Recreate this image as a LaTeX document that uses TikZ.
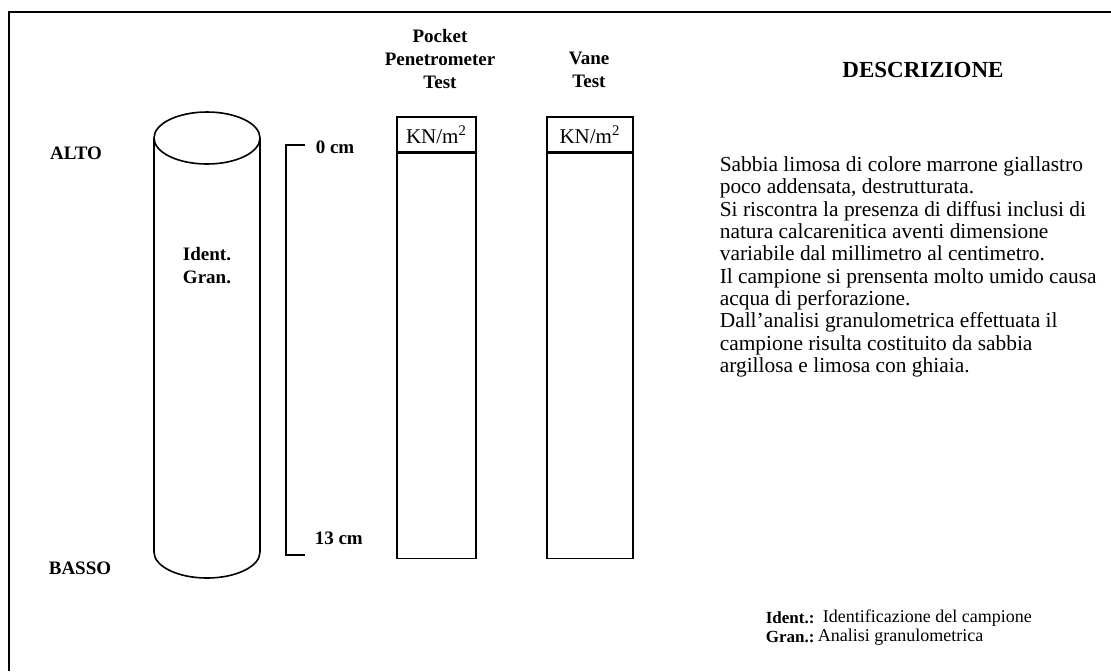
\documentclass[tikz,border=0pt]{standalone}
\usepackage{fontspec}
\setmainfont{Liberation Serif}
\usetikzlibrary{positioning}

\begin{document}
\begin{tikzpicture}
	[
	x=0.5pt, y=-0.5pt,
	line width=0.8pt,
	label/.style={font=\bfseries\fontsize{9.5}{11.5}\selectfont, align=center, inner sep=0pt},
	head/.style={draw, minimum width=#1, minimum height=17.5pt, inner sep=0pt, font=\fontsize{10.5}{12}\selectfont},
	column/.style={draw, minimum width=#1, minimum height=202.5pt, inner sep=0pt},
	desc/.style={font=\fontsize{10.7}{11.15}\selectfont, align=left, inner sep=0pt},
	legend/.style={font=\fontsize{9}{11}\selectfont, inner sep=0pt, anchor=west},
	legkey/.style={font=\bfseries\fontsize{8.5}{11}\selectfont, inner sep=0pt, anchor=west},
	]
		\useasboundingbox (0,0) rectangle (1111,671);

		% frame
		\coordinate (fb) at 		(   9, 671 );
		\coordinate (fc) at 		(   9,  12 );
		\coordinate (fr) at 		(1111,  12 );
		\draw (fb) -- (fc) -- (fr);

		% top / bottom
		\node[label] (alto) at 		(  76, 153 ) {ALTO};
		\node[label] (basso) at 	(  80, 568 ) {BASSO};

		% sample
		\coordinate (ctop) at 		( 207, 138 );
		\coordinate (cbot) at 		( 207, 552 );
		\draw (ctop) ellipse [x radius=26.5pt, y radius=13pt];
		\draw ([xshift=-26.5pt]ctop) -- ([xshift=-26.5pt]cbot)
			arc [start angle=180, end angle=360, x radius=26.5pt, y radius=13pt]
			-- ([xshift=26.5pt]ctop);
		\node[label] (idgr) at 		( 207, 266 ) {Ident.\\Gran.};

		% depth
		\coordinate (d0) at 		( 286, 145 );
		\coordinate (d13) at 		( 286, 555 );
		\draw ([xshift=9.5pt]d0) -- (d0) -- (d13) -- ([xshift=9.5pt]d13);
		\node[label, anchor=west] (z0) at 	( 315, 147 ) {0 cm};
		\node[label, anchor=west] (z13) at 	( 314, 538 ) {13 cm};

		% pocket penetrometer
		\node[label] (ppttit) at 	( 440,  59 ) {Pocket\\Penetrometer\\Test};
		\node[head=39.5pt] (ppt) at 	( 436.5, 134.5 ) {KN/m\textsuperscript{2}};
		\node[column=39.5pt, below=0pt of ppt] (pptcol) {};

		% vane
		\node[label] (vanetit) at 	( 589,  70 ) {Vane\\Test};
		\node[head=43pt] (vane) at 	( 590, 134.5 ) {KN/m\textsuperscript{2}};
		\node[column=43pt, below=0pt of vane] (vanecol) {};

		% description
		\node[label, font=\bfseries\fontsize{11.5}{13}\selectfont] (desctit) at ( 923, 70 ) {DESCRIZIONE};
		\node[desc, anchor=north west] (desctxt) at ( 719, 156 ) {Sabbia limosa di colore marrone giallastro\\
			poco addensata, destrutturata.\\
			Si riscontra la presenza di diffusi inclusi di\\
			natura calcarenitica aventi dimensione\\
			variabile dal millimetro al centimetro.\\
			Il campione si prensenta molto umido causa\\
			acqua di perforazione.\\
			Dall'analisi granulometrica effettuata il\\
			campione risulta costituito da sabbia\\
			argillosa e limosa con ghiaia.};

		% legend
		\node[legkey] (kid) at 		( 765, 618 ) {Ident.:};
		\node[legend] (vid) at 		( 822, 618 ) {Identificazione del campione};
		\node[legkey] (kgr) at 		( 765, 637 ) {Gran.:};
		\node[legend] (vgr) at 		( 817, 637 ) {Analisi granulometrica};

	\end{tikzpicture}
\end{document}
